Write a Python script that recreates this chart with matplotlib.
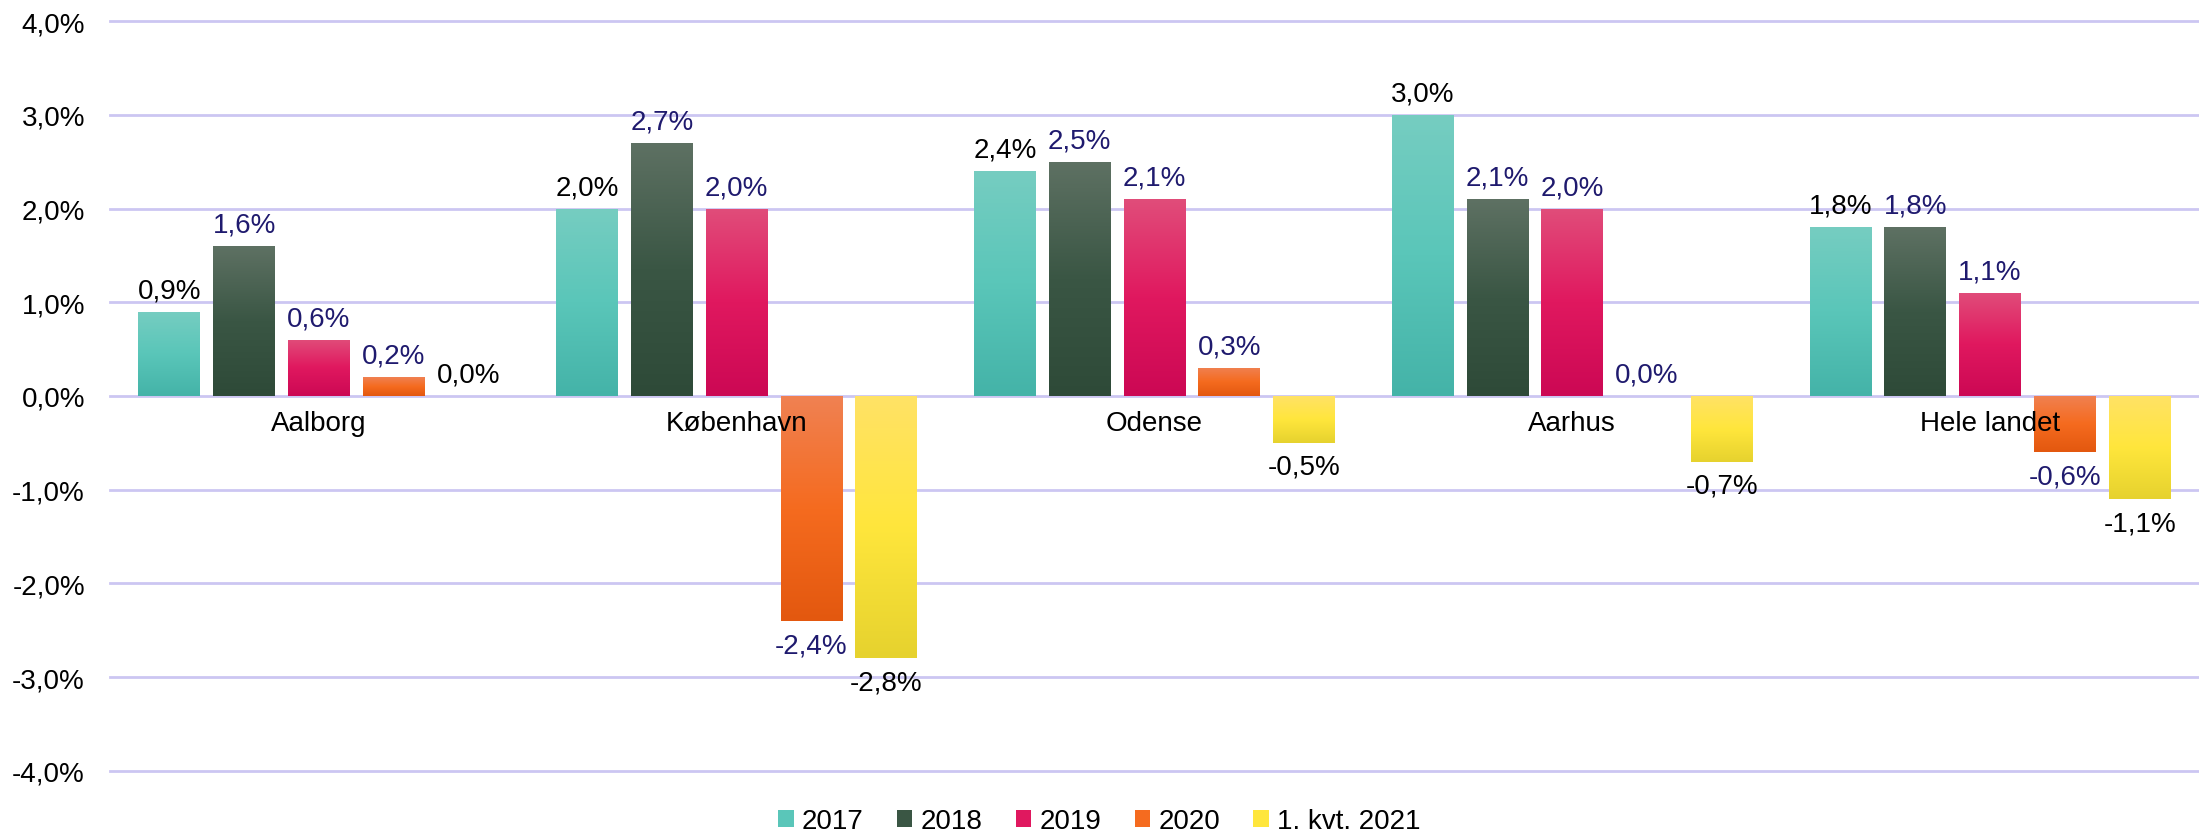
import numpy as np
import matplotlib.pyplot as plt
from matplotlib.colors import LinearSegmentedColormap
from matplotlib.patches import Patch

plt.rcParams['font.family'] = ['Liberation Sans', 'DejaVu Sans']

# --------------------------------------------------
# Data
# --------------------------------------------------

cities = ["Aalborg", "København", "Odense", "Aarhus", "Hele landet"]
series = ["2017", "2018", "2019", "2020", "1. kvt. 2021"]

v2017 = [0.9, 2.0, 2.4, 3.0, 1.8]
v2018 = [1.6, 2.7, 2.5, 2.1, 1.8]
v2019 = [0.6, 2.0, 2.1, 2.0, 1.1]
v2020 = [0.2, -2.4, 0.3, 0.0, -0.6]
v2021 = [0.0, -2.8, -0.5, -0.7, -1.1]

values = [v2017, v2018, v2019, v2020, v2021]

# gradient colours (top, middle, bottom)
grads = [
    ["#76cdc1", "#5ac6b9", "#44b3a8"],
    ["#5e7163", "#3a5644", "#2e4a38"],
    ["#e14d7a", "#e0185f", "#cc0854"],
    ["#f08152", "#f56b1f", "#e3580f"],
    ["#ffe266", "#ffe63c", "#e6d22e"],
]
label_colors = ["black", "#1f1a6e", "#1f1a6e", "#1f1a6e", "black"]

# --------------------------------------------------
# Plot
# --------------------------------------------------

fig = plt.figure(figsize=(21.99, 8.37), dpi=100)
ax = fig.add_axes([0.05, 0.0777, 0.95, 0.896])

ax.set_xlim(-0.5, 4.5)
ax.set_ylim(-4, 4)

step = 0.179
width = 0.148
x = np.arange(len(cities))

for i, vals in enumerate(values):
    cmap = LinearSegmentedColormap.from_list("g%d" % i, grads[i][::-1])
    xs = x + (i - 2) * step
    bars = ax.bar(xs, vals, width=width, color="none", edgecolor="none", zorder=3)
    for b, v in zip(bars, vals):
        if v == 0:
            continue
        x0 = b.get_x()
        y0, y1 = min(0, v), max(0, v)
        grad = np.linspace(0, 1, 256).reshape(-1, 1)
        im = ax.imshow(grad, cmap=cmap, origin="lower", aspect="auto",
                       extent=[x0, x0 + width, y0, y1], zorder=3)
        im.set_clip_path(b)
    for xi, v in zip(xs, vals):
        txt = f"{v:.1f}%".replace(".", ",")
        if v < 0:
            ax.annotate(txt, (xi, v), xytext=(0, -8), textcoords="offset points",
                        ha="center", va="top", fontsize=20, color=label_colors[i])
        else:
            ax.annotate(txt, (xi, v), xytext=(0, 6), textcoords="offset points",
                        ha="center", va="bottom", fontsize=20, color=label_colors[i])

for xi, name in zip(x, cities):
    ax.annotate(name, (xi, 0), xytext=(0, -10), textcoords="offset points",
                ha="center", va="top", fontsize=20, color="black", zorder=5)

ax.set_yticks(np.arange(-4, 5, 1))
ax.set_yticklabels([f"{t:.1f}%".replace(".", ",") for t in np.arange(-4, 5, 1)],
                   fontsize=20)
ax.set_xticks([])
ax.tick_params(axis="y", length=0, pad=18)
ax.yaxis.grid(True, color="#ccc6f2", linewidth=2)
for gl in ax.get_ygridlines():
    gl.set_clip_on(False)
ax.set_axisbelow(True)
for s in ax.spines.values():
    s.set_visible(False)

handles = [Patch(facecolor=g[1], edgecolor="none") for g in grads]
fig.legend(handles, series, loc="lower center", bbox_to_anchor=(0.5, -0.028),
           ncol=5, frameon=False, fontsize=20, handlelength=0.55,
           handleheight=0.55, handletextpad=0.3, columnspacing=1.2)

plt.savefig("out.png", dpi=100)
